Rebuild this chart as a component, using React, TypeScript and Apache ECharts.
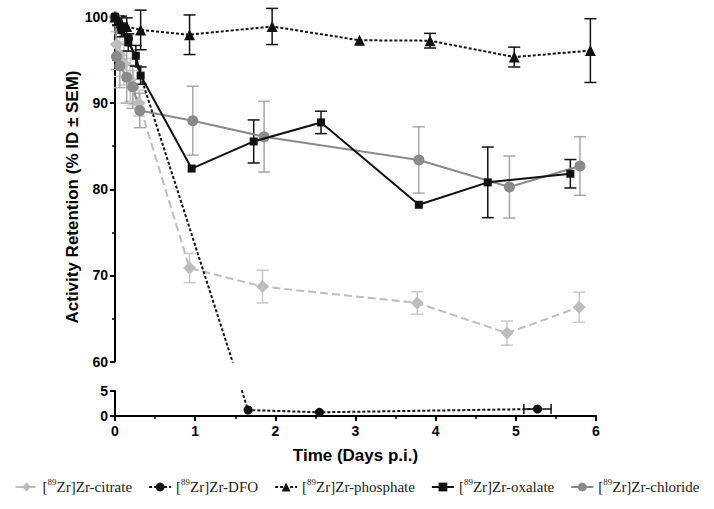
import React, { useEffect, useRef } from "react";
import * as echarts from "echarts";

// ---- data ----
const seriesNames = [
  "[89Zr]Zr-citrate",
  "[89Zr]Zr-DFO",
  "[89Zr]Zr-phosphate",
  "[89Zr]Zr-oxalate",
  "[89Zr]Zr-chloride",
];

const citrateT = [0, 0.02, 0.06, 0.11, 0.19, 0.23, 0.3, 0.93, 1.84, 3.77, 4.89, 5.79];
const citrateV = [100, 96.8, 95.6, 94.6, 92.7, 91.8, 90.0, 70.85, 68.7, 66.8, 63.3, 66.3];
const citrateE = [0, 1.5, 2.5, 2.5, 2.5, 2, 1.5, 1.7, 1.9, 1.3, 1.4, 1.75];

const dfoT = [0, 0.04, 0.08, 0.17, 1.66, 2.55, 5.27];
const dfoV = [100, 99.5, 98.8, 97.5, 1.2, 0.74, 1.4];
const dfoXE = [0, 0, 0, 0, 0, 0, 0.17];

const phosT = [0, 0.04, 0.075, 0.146, 0.32, 0.93, 1.96, 3.05, 3.93, 4.98, 5.93];
const phosV = [100, 99.6, 99.3, 98.9, 98.5, 97.94, 98.9, 97.3, 97.25, 95.35, 96.1];
const phosE = [0, 0.5, 0.8, 1, 2.3, 2.3, 2.1, 0, 0.85, 1.15, 3.7];

const oxT = [0, 0.04, 0.08, 0.166, 0.26, 0.32, 0.956, 1.73, 2.57, 3.79, 4.65, 5.68];
const oxV = [100, 99.5, 98.5, 97.05, 95.5, 93.2, 82.4, 85.55, 87.76, 78.2, 80.8, 81.8];
const oxE = [0, 0.5, 0.8, 1, 1.2, 1, 0, 2.5, 1.3, 0, 4.1, 1.65];

const chlT = [0, 0.02, 0.06, 0.146, 0.22, 0.31, 0.97, 1.86, 3.79, 4.92, 5.8];
const chlV = [100, 95.4, 94.3, 93.0, 91.9, 89.15, 87.96, 86.1, 83.4, 80.26, 82.7];
const chlE = [0, 1.5, 2.5, 3, 2.5, 2, 4, 4.1, 3.85, 3.6, 3.4];

const xTicks = { min: 0, max: 6, interval: 1 };
const upperY = { min: 60, max: 100, interval: 10 };
const lowerY = { min: 0, max: 5, interval: 5 };

// ---- layout ----
const W = 714;
const H = 509;
const gridLeft = 115;
const gridRight = 118;
const upperTop = 17;
const upperH = 344.5;
const lowerTop = 391;
const lowerH = 25;

// pixel mapping for a continuous line across the axis break
const lowerToPx = (v: number) => lowerTop + ((lowerY.max - v) / (lowerY.max - lowerY.min)) * lowerH;
const upperToPx = (v: number) => upperTop + ((upperY.max - v) / (upperY.max - upperY.min)) * upperH;
const pxToUpper = (p: number) => upperY.max - ((p - upperTop) / upperH) * (upperY.max - upperY.min);
const pxToLower = (p: number) => lowerY.max - ((p - lowerTop) / lowerH) * (lowerY.max - lowerY.min);
const inUpper = (v: number) => v >= upperY.min;

const zip = (t: number[], v: number[]) => t.map((x, i) => [x, v[i]]);
const zip3 = (t: number[], v: number[], e: number[]) => t.map((x, i) => [x, v[i], e[i]]);

const FONT = "'Liberation Sans', Arial, sans-serif";
const SERIF = "'Liberation Serif', 'Times New Roman', serif";

function vErr(color: string, cap = 6) {
  return (params: any, api: any) => {
    const t = api.value(0);
    const v = api.value(1);
    const e = api.value(2);
    if (!e) return { type: "group", children: [] };
    const a = api.coord([t, v + e]);
    const b = api.coord([t, v - e]);
    const style = { stroke: color, lineWidth: 1.5 };
    return {
      type: "group",
      children: [
        { type: "line", shape: { x1: a[0], y1: a[1], x2: b[0], y2: b[1] }, style },
        { type: "line", shape: { x1: a[0] - cap, y1: a[1], x2: a[0] + cap, y2: a[1] }, style },
        { type: "line", shape: { x1: b[0] - cap, y1: b[1], x2: b[0] + cap, y2: b[1] }, style },
      ],
    };
  };
}

function hErr(color: string, cap = 5) {
  return (params: any, api: any) => {
    const t = api.value(0);
    const v = api.value(1);
    const e = api.value(2);
    if (!e) return { type: "group", children: [] };
    const a = api.coord([t - e, v]);
    const b = api.coord([t + e, v]);
    const style = { stroke: color, lineWidth: 1.5 };
    return {
      type: "group",
      children: [
        { type: "line", shape: { x1: a[0], y1: a[1], x2: b[0], y2: b[1] }, style },
        { type: "line", shape: { x1: a[0], y1: a[1] - cap, x2: a[0], y2: a[1] + cap }, style },
        { type: "line", shape: { x1: b[0], y1: b[1] - cap, x2: b[0], y2: b[1] + cap }, style },
      ],
    };
  };
}

export default function App() {
  const ref = useRef<HTMLDivElement>(null);
  useEffect(() => {
    if (!ref.current) return;
    const chart = echarts.init(ref.current, null, { renderer: "svg" });

    const citrateColor = "#bdbdbd";
    const chlColor = "#8a8a8a";
    const black = "#111";

    // DFO in each panel's units (points of the other panel mapped through pixel space)
    const dfoUpper = dfoT.map((t, i) => [t, inUpper(dfoV[i]) ? dfoV[i] : pxToUpper(lowerToPx(dfoV[i]))]);
    const dfoLower = dfoT.map((t, i) => [t, inUpper(dfoV[i]) ? pxToLower(upperToPx(dfoV[i])) : dfoV[i]]);

    const axisLine = { show: true, lineStyle: { color: "#000", width: 2 } };
    const axisLabel = { color: "#000", fontFamily: FONT, fontWeight: "bold", fontSize: 14 };

    const option: any = {
      animation: false,
      backgroundColor: "#fff",
      grid: [
        { left: gridLeft, right: gridRight, top: upperTop, height: upperH },
        { left: gridLeft, right: gridRight, top: lowerTop, height: lowerH },
      ],
      xAxis: [
        { gridIndex: 0, type: "value", ...xTicks, show: false },
        {
          gridIndex: 1,
          type: "value",
          ...xTicks,
          axisLine,
          axisTick: { show: true, length: 5, lineStyle: { color: "#000", width: 2 } },
          minorTick: { show: true, splitNumber: 2, length: 3, lineStyle: { color: "#000", width: 1.5 } },
          splitLine: { show: false },
          axisLabel: { ...axisLabel, margin: 8 },
          name: "Time (Days p.i.)",
          nameLocation: "middle",
          nameGap: 31,
          nameTextStyle: { color: "#000", fontFamily: FONT, fontWeight: "bold", fontSize: 17 },
        },
      ],
      yAxis: [
        {
          gridIndex: 0,
          type: "value",
          ...upperY,
          axisLine,
          axisTick: { show: true, length: 5, lineStyle: { color: "#000", width: 2 } },
          minorTick: { show: true, splitNumber: 2, length: 3, lineStyle: { color: "#000", width: 1.5 } },
          splitLine: { show: false },
          axisLabel: { ...axisLabel, margin: 7 },
        },
        {
          gridIndex: 1,
          type: "value",
          ...lowerY,
          axisLine,
          axisTick: { show: true, length: 5, lineStyle: { color: "#000", width: 2 } },
          splitLine: { show: false },
          axisLabel: { ...axisLabel, margin: 7 },
        },
      ],
      graphic: [
        {
          type: "text",
          x: 72,
          y: 197,
          rotation: Math.PI / 2,
          style: {
            text: "Activity Retention (% ID ± SEM)",
            fontFamily: FONT,
            fontWeight: "bold",
            fontSize: 17,
            fill: "#000",
            align: "center",
            verticalAlign: "middle",
          },
        },
      ],
      legend: {
        data: seriesNames,
        left: "center",
        top: 472,
        itemGap: 16,
        itemWidth: 22,
        itemHeight: 11,
        formatter: (name: string) => name.replace("89", "{sup|89}"),
        textStyle: {
          fontFamily: SERIF,
          fontSize: 15,
          color: "#222",
          lineHeight: 20,
          rich: {
            sup: { fontFamily: SERIF, fontSize: 9, lineHeight: 9, verticalAlign: "top", color: "#222" },
          },
        },
      },
      series: [
        // error bars
        { type: "custom", xAxisIndex: 0, yAxisIndex: 0, renderItem: vErr("#c8c8c8"), data: zip3(citrateT, citrateV, citrateE), encode: { x: 0, y: 1 }, z: 1 },
        { type: "custom", xAxisIndex: 0, yAxisIndex: 0, renderItem: vErr("#a8a8a8"), data: zip3(chlT, chlV, chlE), encode: { x: 0, y: 1 }, z: 1 },
        { type: "custom", xAxisIndex: 0, yAxisIndex: 0, renderItem: vErr(black), data: zip3(oxT, oxV, oxE), encode: { x: 0, y: 1 }, z: 1 },
        { type: "custom", xAxisIndex: 0, yAxisIndex: 0, renderItem: vErr(black), data: zip3(phosT, phosV, phosE), encode: { x: 0, y: 1 }, z: 1 },
        { type: "custom", xAxisIndex: 1, yAxisIndex: 1, renderItem: hErr(black), data: zip3(dfoT, dfoV, dfoXE).filter((d) => !inUpper(d[1])), encode: { x: 0, y: 1 }, z: 1 },
        // lines
        {
          name: seriesNames[0], type: "line", xAxisIndex: 0, yAxisIndex: 0, data: zip(citrateT, citrateV),
          symbol: "diamond", symbolSize: 13, itemStyle: { color: citrateColor },
          lineStyle: { color: citrateColor, width: 2, type: [8, 4] }, z: 3,
        },
        {
          name: seriesNames[1], type: "line", xAxisIndex: 0, yAxisIndex: 0, data: dfoUpper, clip: true,
          symbol: "circle", symbolSize: 9, itemStyle: { color: black },
          lineStyle: { color: black, width: 2, type: [3, 2] }, z: 4,
        },
        {
          name: seriesNames[1], type: "line", xAxisIndex: 1, yAxisIndex: 1, data: dfoLower, clip: true,
          symbol: "circle", symbolSize: 9, itemStyle: { color: black },
          lineStyle: { color: black, width: 2, type: [3, 2] }, z: 4,
        },
        {
          name: seriesNames[2], type: "line", xAxisIndex: 0, yAxisIndex: 0, data: zip(phosT, phosV),
          symbol: "triangle", symbolSize: 11, itemStyle: { color: black },
          lineStyle: { color: black, width: 2, type: [3, 2] }, z: 4,
        },
        {
          name: seriesNames[3], type: "line", xAxisIndex: 0, yAxisIndex: 0, data: zip(oxT, oxV),
          symbol: "rect", symbolSize: 8, itemStyle: { color: black },
          lineStyle: { color: black, width: 2 }, z: 5,
        },
        {
          name: seriesNames[4], type: "line", xAxisIndex: 0, yAxisIndex: 0, data: zip(chlT, chlV),
          symbol: "circle", symbolSize: 11, itemStyle: { color: chlColor },
          lineStyle: { color: chlColor, width: 2 }, z: 3,
        },
      ],
    };

    chart.setOption(option);
    return () => chart.dispose();
  }, []);

  return <div ref={ref} style={{ width: W, height: H, position: "absolute", left: 0, top: 0 }} />;
}
